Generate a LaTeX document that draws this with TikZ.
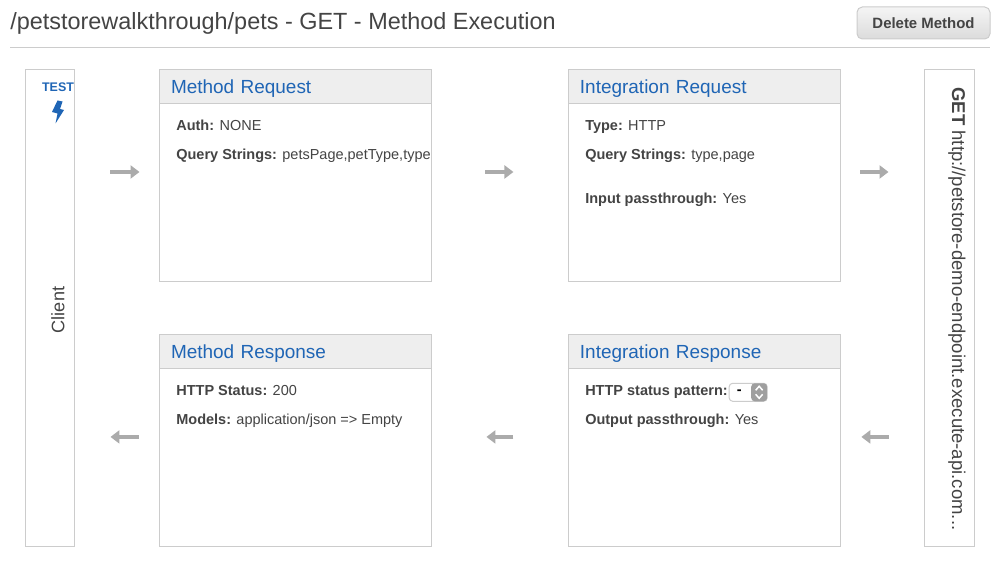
\documentclass[tikz,border=0pt]{standalone}
\usepackage{fontspec}
\setmainfont{Liberation Sans}
\usetikzlibrary{arrows.meta,positioning,shadings}
\definecolor{framegray}{HTML}{CCCCCC}
\definecolor{headgray}{HTML}{EEEEEE}
\definecolor{arrowgray}{HTML}{ABABAB}
\definecolor{linkblue}{HTML}{1F65B5}
\definecolor{inkgray}{HTML}{444444}

\begin{document}
\begin{tikzpicture}[
    x=0.02cm, y=-0.02cm,
    panel/.style={draw=framegray, line width=0.02cm, fill=white, outer sep=0pt,
      minimum width=5.44cm, minimum height=4.24cm},
    panelhead/.style={draw=framegray, line width=0.02cm, fill=headgray, outer sep=0pt,
      anchor=north, minimum width=5.44cm, minimum height=0.68cm, text width=4.98cm,
      inner xsep=0.23cm, align=left, text height=0.32cm, text depth=0.04cm,
      text=linkblue, font=\fontsize{10.8pt}{13pt}\selectfont},
    sidebox/.style={draw=framegray, line width=0.02cm, fill=white, outer sep=0pt,
      anchor=north west, minimum width=0.98cm, minimum height=9.54cm},
    rowtext/.style={inner sep=0pt, text height=0.2cm, text depth=0.06cm, text=inkgray,
      font=\fontsize{8.25pt}{10pt}\selectfont},
    flow/.style={-{Triangle[length=0.18cm,width=0.26cm]}, draw=arrowgray, line width=0.08cm}
  ]
    \useasboundingbox (0,0) rectangle (1000,584);

    \node[anchor=west, inner sep=0pt, text=inkgray, font=\fontsize{13.33pt}{16pt}\selectfont] (title)
      at (10,23) {/petstorewalkthrough/pets - GET - Method Execution};
    \node[draw=framegray, line width=0.02cm, rounded corners=3pt, top color=white!96!black,
      bottom color=white!86!black, minimum width=2.66cm, minimum height=0.64cm, outer sep=0pt,
      text=inkgray, font=\fontsize{8.5pt}{10pt}\selectfont\bfseries] (delete)
      at (923.5,23) {Delete Method};
    \coordinate (ruleleft) at (10,47.5);
    \draw[framegray, line width=0.02cm] (ruleleft) -- (ruleleft -| delete.east);

    \node[sidebox] (client) at (25.5,69.5) {};
    \node[sidebox, minimum width=1cm] (endpoint) at (924.5,69.5) {};
    \node[panel, anchor=north west] (mreq) at (159.5,69.5) {};
    \node[panel, right=2.74cm of mreq] (ireq) {};
    \node[panel, below=1.06cm of mreq] (mres) {};
    \node[panel, below=1.06cm of ireq] (ires) {};

    \node[panelhead] (mreqhead) at (mreq.north) {Method Request};
    \node[panelhead] (ireqhead) at (ireq.north) {Integration Request};
    \node[panelhead] (mreshead) at (mres.north) {Method Response};
    \node[panelhead] (ireshead) at (ires.north) {Integration Response};

    % client column
    \node[inner sep=0pt, text=linkblue, font=\fontsize{7.1pt}{8pt}\selectfont\bfseries] (test)
      at (58,87.5) {TEST};
    \fill[linkblue] (57.5,100.5) -- (62.5,101.5) -- (60,109) -- (64,110) -- (55.5,123.5)
      -- (57.5,113.5) -- (52,112) -- cycle;
    \node[rotate=90, inner sep=0pt, text=inkgray, font=\fontsize{10.3pt}{12pt}\selectfont] (clientlabel)
      at (58,310) {Client};

    % endpoint column
    \node[rotate=-90, anchor=west, inner sep=0pt, text=inkgray, font=\fontsize{10.55pt}{12pt}\selectfont] (endpointlabel)
      at (957,87) {\textbf{GET} http://petstore-demo-endpoint.execute-api.com...};

    % panel rows
    \node[rowtext, below right=0.34cm and 0.33cm of mreqhead.south west] (auth)
      {\textbf{Auth:} NONE};
    \node[rowtext, below=0.3cm of auth.south west, anchor=north west] (query)
      {\textbf{Query Strings:} petsPage,petType,type};
    \node[rowtext, below right=0.34cm and 0.33cm of ireqhead.south west] (type)
      {\textbf{Type:} HTTP};
    \node[rowtext, below=0.3cm of type.south west, anchor=north west] (iquery)
      {\textbf{Query Strings:} type,page};
    \node[rowtext, below=0.6cm of iquery.south west, anchor=north west] (pass)
      {\textbf{Input passthrough:} Yes};
    \node[rowtext, below right=0.34cm and 0.33cm of mreshead.south west] (status)
      {\textbf{HTTP Status:} 200};
    \node[rowtext, below=0.3cm of status.south west, anchor=north west] (models)
      {\textbf{Models:} application/json => Empty};
    \node[rowtext, below right=0.34cm and 0.33cm of ireshead.south west] (pattern)
      {\textbf{HTTP status pattern:}};
    \node[rowtext, below=0.3cm of pattern.south west, anchor=north west] (output)
      {\textbf{Output passthrough:} Yes};

    % little select control
    \node[draw=framegray, line width=0.02cm, fill=white, rounded corners=2pt, outer sep=0pt,
      minimum width=0.76cm, minimum height=0.36cm, inner sep=0pt, right=0.02cm of pattern] (select) {};
    \fill[gray!75, rounded corners=2pt] (select.north east) rectangle ([xshift=-0.32cm]select.south east);
    \node[inner sep=0pt, text=black, font=\fontsize{8.25pt}{10pt}\selectfont\bfseries, xshift=-0.18cm] (dash) at (select) {-};
    \draw[white, line width=0.03cm] ([xshift=-0.23cm,yshift=0.04cm]select.east) -- ([xshift=-0.16cm,yshift=0.12cm]select.east)
      -- ([xshift=-0.09cm,yshift=0.04cm]select.east);
    \draw[white, line width=0.03cm] ([xshift=-0.23cm,yshift=-0.04cm]select.east) -- ([xshift=-0.16cm,yshift=-0.12cm]select.east)
      -- ([xshift=-0.09cm,yshift=-0.04cm]select.east);

    % arrows
    \draw[flow, shorten <=0.72cm, shorten >=0.4cm] ([yshift=0.07cm]mreq.west -| client.east) -- ([yshift=0.07cm]mreq.west);
    \draw[flow, shorten <=1.08cm, shorten >=1.1cm] ([yshift=0.07cm]mreq.east) -- ([yshift=0.07cm]ireq.west);
    \draw[flow, shorten <=0.4cm, shorten >=0.72cm] ([yshift=0.07cm]ireq.east) -- ([yshift=0.07cm]ireq.east -| endpoint.west);
    \draw[flow, shorten <=0.72cm, shorten >=0.42cm] ([yshift=0.07cm]ires.east -| endpoint.west) -- ([yshift=0.07cm]ires.east);
    \draw[flow, shorten <=1.1cm, shorten >=1.1cm] ([yshift=0.07cm]ires.west) -- ([yshift=0.07cm]mres.east);
    \draw[flow, shorten <=0.42cm, shorten >=0.72cm] ([yshift=0.07cm]mres.west) -- ([yshift=0.07cm]mres.west -| client.east);
  \end{tikzpicture}
\end{document}
